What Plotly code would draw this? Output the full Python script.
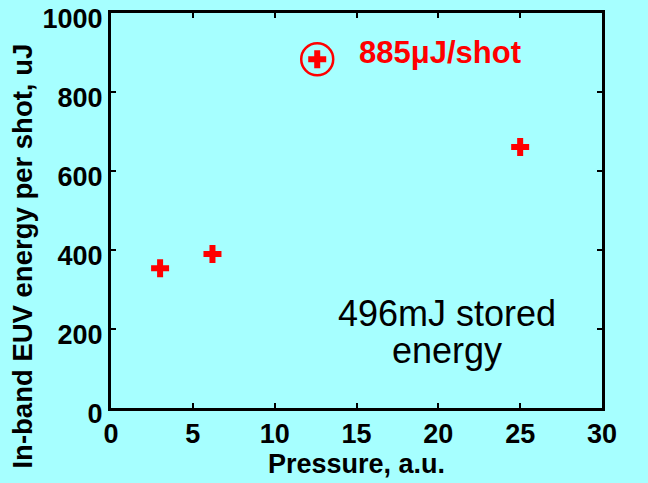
import plotly.graph_objects as go

pressure = [3, 6.2, 12.6, 25]
energy = [354, 390, 883, 661]
highlight_x = [12.6]
highlight_y = [883]
bg = "#a6ffff"
FONT = "Liberation Sans, Arial"

fig = go.Figure()
fig.add_trace(go.Scatter(
    x=pressure, y=energy, mode="markers",
    marker=dict(symbol="cross", size=15, color="red", line=dict(width=0)),
    showlegend=False, cliponaxis=False))
fig.add_trace(go.Scatter(
    x=highlight_x, y=highlight_y, mode="markers",
    marker=dict(symbol="circle-open", size=32, color="red", line=dict(width=2.5, color="red")),
    showlegend=False, cliponaxis=False))

fig.add_annotation(x=15.0, y=900, xanchor="left", yanchor="middle",
                   text="<b>885μJ/shot</b>", showarrow=False,
                   font=dict(family=FONT, size=31, color="red"))
fig.add_annotation(x=20.5, y=240, xanchor="center", yanchor="middle",
                   text="496mJ stored", showarrow=False,
                   font=dict(family=FONT, size=36, color="black"))
fig.add_annotation(x=20.5, y=145, xanchor="center", yanchor="middle",
                   text="energy", showarrow=False,
                   font=dict(family=FONT, size=36, color="black"))
# y-axis title (offset downward as in the reference)
fig.add_annotation(xref="paper", yref="paper", x=-0.18, y=0.385,
                   xanchor="center", yanchor="middle", textangle=-90,
                   text="<b>In-band EUV energy per shot, uJ</b>", showarrow=False,
                   font=dict(family=FONT, size=27.5, color="black"))

axis_common = dict(showline=True, linecolor="black", linewidth=3, mirror="ticks",
                   ticks="inside", ticklen=5, tickwidth=2, tickcolor="black",
                   showgrid=False, zeroline=False, ticklabeloverflow="allow",
                   tickfont=dict(family=FONT, size=27, color="black", weight="bold"))

fig.update_xaxes(range=[0, 30], tickvals=[0, 5, 10, 15, 20, 25, 30],
                 title=dict(text="<b>Pressure, a.u.</b>", standoff=6,
                            font=dict(family=FONT, size=27, color="black")),
                 **axis_common)
fig.update_yaxes(range=[0, 1000], tickvals=[0, 200, 400, 600, 800, 1000],
                 ticklabelshift=6, **axis_common)

fig.update_layout(width=648, height=483, paper_bgcolor=bg, plot_bgcolor=bg,
                  margin=dict(l=111, r=46, t=13, b=75, autoexpand=False))
fig.write_html("out.html")
